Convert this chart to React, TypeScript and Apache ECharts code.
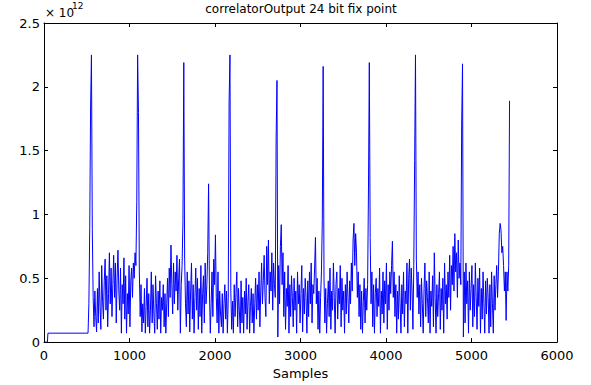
import React, { useEffect, useRef } from "react";
import * as echarts from "echarts";

const TITLE = "correlatorOutput 24 bit fix point";
const X_NAME = "Samples";
const Y_EXPONENT = "12";

// flat lead-in before the first correlation peak (value in units of 1e12)
const leadSamples = [0, 40, 46, 515];
const leadValues = [0, 0, 0.07, 0.07];

// correlator output from sample 525 onward, one value every 10 samples (units of 1e12)
const NOISE_START = 525;
const NOISE_STEP = 10;
const correlatorValues = [
  0.30, 0.90, 1.85, 2.25, 0.88, 0.35, 0.12, 0.40, 0.20, 0.08,
  0.42, 0.15, 0.55, 0.28, 0.10, 0.60, 0.32, 0.18, 0.48, 0.65,
  0.25, 0.52, 0.12, 0.38, 0.70, 0.30, 0.58, 0.20, 0.45, 0.68,
  0.35, 0.62, 0.15, 0.50, 0.72, 0.40, 0.25, 0.58, 0.07, 0.45,
  0.30, 0.66, 0.18, 0.52, 0.07, 0.38, 0.22, 0.60, 0.12, 0.48,
  0.58, 0.35, 0.62, 0.50, 0.70, 0.60, 1.10, 2.25, 1.80, 0.55,
  0.20, 0.45, 0.08, 0.30, 0.15, 0.42, 0.07, 0.28, 0.50, 0.12,
  0.38, 0.07, 0.25, 0.55, 0.15, 0.45, 0.22, 0.07, 0.52, 0.30,
  0.10, 0.40, 0.18, 0.48, 0.07, 0.35, 0.25, 0.45, 0.12, 0.38,
  0.07, 0.30, 0.50, 0.20, 0.58, 0.35, 0.76, 0.45, 0.22, 0.62,
  0.30, 0.55, 0.40, 0.68, 0.25, 0.50, 0.65, 0.07, 0.45, 0.60,
  0.95, 2.19, 0.65, 0.30, 0.12, 0.55, 0.22, 0.48, 0.08, 0.40,
  0.62, 0.18, 0.45, 0.07, 0.35, 0.58, 0.25, 0.50, 0.10, 0.42,
  0.20, 0.60, 0.07, 0.38, 0.52, 0.15, 0.62, 0.30, 0.45, 0.70,
  1.24, 0.40, 0.07, 0.30, 0.55, 0.20, 0.65, 0.45, 0.84, 0.35,
  0.15, 0.55, 0.07, 0.40, 0.22, 0.12, 0.38, 0.07, 0.30, 0.45,
  0.18, 0.40, 0.07, 0.35, 1.88, 2.25, 0.40, 0.10, 0.32, 0.07,
  0.45, 0.20, 0.38, 0.55, 0.12, 0.42, 0.25, 0.07, 0.48, 0.15,
  0.35, 0.07, 0.40, 0.22, 0.50, 0.10, 0.32, 0.45, 0.07, 0.28,
  0.42, 0.15, 0.38, 0.07, 0.30, 0.50, 0.18, 0.45, 0.25, 0.55,
  0.12, 0.40, 0.62, 0.30, 0.48, 0.68, 0.35, 0.20, 0.75, 0.45,
  0.80, 0.30, 0.55, 0.40, 0.70, 0.25, 0.62, 0.45, 0.35, 1.60,
  2.05, 0.04, 0.60, 0.30, 0.75, 0.92, 0.45, 0.70, 0.20, 0.55,
  0.10, 0.42, 0.28, 0.60, 0.07, 0.45, 0.20, 0.52, 0.35, 0.12,
  0.50, 0.25, 0.40, 0.07, 0.55, 0.30, 0.45, 0.15, 0.38, 0.60,
  0.08, 0.42, 0.22, 0.50, 0.35, 0.07, 0.48, 0.20, 0.55, 0.30,
  0.62, 0.15, 0.45, 0.38, 0.58, 0.82, 0.30, 0.50, 0.10, 0.40,
  0.07, 0.35, 0.55, 0.95, 2.16, 0.50, 0.15, 0.42, 0.07, 0.30,
  0.48, 0.20, 0.58, 0.10, 0.40, 0.25, 0.62, 0.35, 0.07, 0.45,
  0.55, 0.18, 0.42, 0.30, 0.60, 0.12, 0.50, 0.25, 0.40, 0.07,
  0.45, 0.22, 0.55, 0.35, 0.15, 0.48, 0.30, 0.62, 0.40, 0.80,
  0.93, 0.60, 0.85, 0.70, 0.35, 0.55, 0.20, 0.45, 0.10, 0.40,
  0.07, 0.32, 0.50, 0.15, 0.42, 0.25, 0.45, 1.20, 2.19, 0.82,
  0.30, 0.55, 0.12, 0.45, 0.07, 0.38, 0.50, 0.20, 0.42, 0.28,
  0.58, 0.07, 0.40, 0.22, 0.55, 0.15, 0.48, 0.30, 0.62, 0.10,
  0.45, 0.25, 0.55, 0.38, 0.60, 0.79, 0.35, 0.55, 0.20, 0.45,
  0.07, 0.40, 0.18, 0.52, 0.30, 0.07, 0.45, 0.22, 0.55, 0.12,
  0.40, 0.30, 0.62, 0.07, 0.50, 0.65, 0.25, 0.58, 0.40, 0.10,
  0.60, 1.42, 2.25, 0.65, 0.35, 0.55, 0.22, 0.45, 0.12, 0.50,
  0.30, 0.07, 0.42, 0.62, 0.20, 0.48, 0.35, 0.15, 0.55, 0.07,
  0.40, 0.28, 0.52, 0.12, 0.70, 0.35, 0.07, 0.45, 0.20, 0.38,
  0.55, 0.10, 0.42, 0.25, 0.50, 0.07, 0.62, 0.30, 0.45, 0.18,
  0.55, 0.35, 0.68, 0.25, 0.60, 0.45, 0.75, 0.40, 0.85, 0.55,
  0.70, 0.35, 0.80, 0.50, 0.62, 0.45, 1.70, 2.18, 0.04, 0.55,
  0.15, 0.62, 0.30, 0.48, 0.07, 0.55, 0.25, 0.42, 0.60, 0.12,
  0.45, 0.20, 0.62, 0.35, 0.10, 0.50, 0.28, 0.58, 0.07, 0.42,
  0.18, 0.55, 0.30, 0.07, 0.48, 0.22, 0.50, 0.35, 0.07, 0.45,
  0.12, 0.55, 0.30, 0.07, 0.52, 0.25, 0.45, 0.60, 0.35, 0.55,
  0.85, 0.93, 0.88, 0.70, 0.75, 0.60, 0.40, 0.55, 0.17, 0.55,
  0.40, 0.60, 1.89,
];

const X_MIN = 0, X_MAX = 6000, X_INTERVAL = 1000;
const Y_MIN = 0, Y_MAX = 2.5, Y_INTERVAL = 0.5;

const FONT = "DejaVu Sans";

export default function App() {
  const ref = useRef<HTMLDivElement>(null);
  useEffect(() => {
    document.body.style.margin = "0";
    const chart = echarts.init(ref.current!, null, { renderer: "svg" });
    const data: [number, number][] = [];
    leadSamples.forEach((s, i) => data.push([s, leadValues[i]]));
    correlatorValues.forEach((v, i) => data.push([NOISE_START + i * NOISE_STEP, v]));

    const axisLine = { show: true, onZero: false, lineStyle: { color: "#000", width: 1 } };
    const tick = { show: true, inside: true, length: 4, lineStyle: { color: "#000" } };
    const label = { color: "#000", fontFamily: FONT, fontSize: 13, formatter: (v: number) => String(v) };

    chart.setOption({
      animation: false,
      backgroundColor: "#fff",
      grid: { left: 44, top: 23, width: 513, height: 323, containLabel: false },
      xAxis: [
        {
          type: "value", min: X_MIN, max: X_MAX, interval: X_INTERVAL, position: "bottom",
          axisLine, axisTick: tick, splitLine: { show: false },
          axisLabel: { ...label, margin: 7 },
          name: X_NAME, nameLocation: "middle", nameGap: 20,
          nameTextStyle: { color: "#000", fontFamily: FONT, fontSize: 13 },
        },
        {
          type: "value", min: X_MIN, max: X_MAX, interval: X_INTERVAL, position: "top",
          axisLine, axisTick: tick, splitLine: { show: false }, axisLabel: { show: false },
        },
      ],
      yAxis: [
        {
          type: "value", min: Y_MIN, max: Y_MAX, interval: Y_INTERVAL, position: "left",
          axisLine, axisTick: tick, splitLine: { show: false },
          axisLabel: { ...label, margin: 4 },
        },
        {
          type: "value", min: Y_MIN, max: Y_MAX, interval: Y_INTERVAL, position: "right",
          axisLine, axisTick: tick, splitLine: { show: false }, axisLabel: { show: false },
        },
      ],
      graphic: [
        {
          type: "text", x: 301, y: 9,
          style: { text: TITLE, fill: "#000", font: `12px "${FONT}"`, align: "center", verticalAlign: "middle" },
        },
        {
          type: "text", x: 45, y: 13,
          style: { text: "× 10", fill: "#000", font: `12px "${FONT}"`, align: "left", verticalAlign: "middle" },
        },
        {
          type: "text", x: 72, y: 6,
          style: { text: Y_EXPONENT, fill: "#000", font: `9px "${FONT}"`, align: "left", verticalAlign: "middle" },
        },
      ],
      series: [
        {
          type: "line", data, showSymbol: false, symbol: "none",
          lineStyle: { color: "#0000ff", width: 1 },
          xAxisIndex: 0, yAxisIndex: 0,
        },
      ],
    });
    return () => chart.dispose();
  }, []);
  return <div ref={ref} style={{ width: 591, height: 385 }} />;
}
